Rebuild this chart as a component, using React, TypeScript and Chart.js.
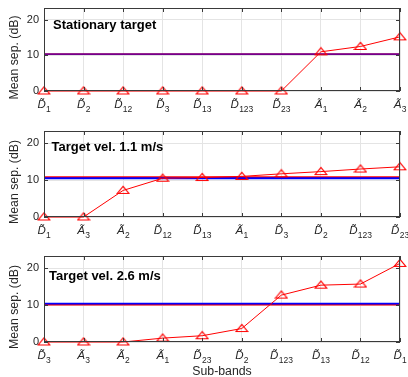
import { useEffect, useRef } from 'react';
import { Chart, registerables } from 'chart.js';

Chart.register(...registerables);

// Sub-band orderings and mean separation (dB) for each scenario
const BANDS_STATIONARY = ['D1', 'D2', 'D12', 'D3', 'D13', 'D123', 'D23', 'A1', 'A2', 'A3'];
const SEP_STATIONARY = [0, 0, 0, 0, 0, 0, 0, 11.0, 12.5, 15.2];

const BANDS_VEL_11 = ['D1', 'A3', 'A2', 'D12', 'D13', 'A1', 'D3', 'D2', 'D123', 'D23'];
const SEP_VEL_11 = [0, 0, 7.2, 10.5, 10.7, 11.0, 11.7, 12.3, 13.0, 13.6];

const BANDS_VEL_26 = ['D3', 'A3', 'A2', 'A1', 'D23', 'D2', 'D123', 'D13', 'D12', 'D1'];
const SEP_VEL_26 = [0, 0, 0, 1.05, 1.7, 3.65, 12.7, 15.4, 15.7, 21.3];

// Reference levels (dB) per scenario
const REF_BLUE = [10.35, 10.5, 10.4];
const REF_RED = [10.35, 10.8, 10.1];

const PANEL_TITLES = ['Stationary target', 'Target vel. 1.1 m/s', 'Target vel. 2.6 m/s'];
const Y_TICKS = [0, 10, 20];
const Y_MAX = 23.3;
const Y_TITLE = 'Mean sep. (dB)';
const X_TITLE = 'Sub-bands';

const FONT = '"Liberation Sans", Arial, Helvetica, sans-serif';
const AXIS_COLOR = '#3a3a3a';
const TEXT_COLOR = '#262626';
const GRID_COLOR = '#e4e4e4';

type PanelLayout = {
  canvasTop: number;
  canvasHeight: number;
  plotTop: number;
  plotBottom: number;
  noteX: number;
  noteY: number;
  blueColor: string;
  showXTitle: boolean;
};

const LAYOUTS: PanelLayout[] = [
  { canvasTop: 0, canvasHeight: 125, plotTop: 8, plotBottom: 91, noteX: 53, noteY: 25.5, blueColor: 'rgba(0,0,255,0.55)', showXTitle: false },
  { canvasTop: 125, canvasHeight: 125, plotTop: 6, plotBottom: 92, noteX: 51.5, noteY: 22, blueColor: '#0000ff', showXTitle: false },
  { canvasTop: 250, canvasHeight: 127, plotTop: 6, plotBottom: 92, noteX: 49, noteY: 26, blueColor: '#0000ff', showXTitle: true },
];

const PLOT_LEFT = 44;
const PLOT_RIGHT = 400;
const WIDTH = 408;

function makeTriangle(color: string): HTMLCanvasElement {
  const c = document.createElement('canvas');
  c.width = 14;
  c.height = 11;
  const g = c.getContext('2d')!;
  g.strokeStyle = color;
  g.lineWidth = 1.15;
  g.lineJoin = 'miter';
  g.beginPath();
  g.moveTo(7, 1.4);
  g.lineTo(12.8, 8.5);
  g.lineTo(1.2, 8.5);
  g.closePath();
  g.stroke();
  return c;
}

function drawBandLabel(ctx: CanvasRenderingContext2D, label: string, cx: number, base: number) {
  const letter = label[0] + '\u0303';
  const sub = label.slice(1);
  ctx.font = `italic 11.5px ${FONT}`;
  const wL = ctx.measureText(label[0]).width;
  ctx.font = `8.5px ${FONT}`;
  const wS = ctx.measureText(sub).width;
  const x0 = cx - (wL + wS) / 2;
  ctx.textAlign = 'left';
  ctx.textBaseline = 'alphabetic';
  ctx.fillStyle = TEXT_COLOR;
  ctx.font = `italic 11.5px ${FONT}`;
  ctx.fillText(letter, x0, base);
  ctx.font = `8.5px ${FONT}`;
  ctx.fillText(sub, x0 + wL + 0.3, base + 4);
}

function Panel({ idx, bands, values }: { idx: number; bands: string[]; values: number[] }) {
  const ref = useRef<HTMLCanvasElement | null>(null);
  const lay = LAYOUTS[idx];

  useEffect(() => {
    const canvas = ref.current;
    if (!canvas) return;
    const tri = makeTriangle('#ff0000');
    const first = bands[0];
    const last = bands[bands.length - 1];

    const frame = {
      id: 'frame' + idx,
      afterDraw(chart: any) {
        const { ctx, chartArea: a, scales } = chart;
        const xs = scales.x;
        const ys = scales.y;
        ctx.save();
        // axes box
        ctx.strokeStyle = AXIS_COLOR;
        ctx.lineWidth = 1;
        ctx.strokeRect(Math.round(a.left) + 0.5, Math.round(a.top) + 0.5, Math.round(a.right - a.left) - 1, Math.round(a.bottom - a.top) - 1);
        // inward ticks
        ctx.beginPath();
        bands.forEach((_, i) => {
          const x = Math.round(xs.getPixelForValue(i)) + 0.5;
          ctx.moveTo(x, a.bottom);
          ctx.lineTo(x, a.bottom - 4);
          ctx.moveTo(x, a.top);
          ctx.lineTo(x, a.top + 4);
        });
        Y_TICKS.forEach((v) => {
          const y = Math.round(ys.getPixelForValue(v)) + 0.5;
          ctx.moveTo(a.left, y);
          ctx.lineTo(a.left + 4, y);
          ctx.moveTo(a.right, y);
          ctx.lineTo(a.right - 4, y);
        });
        ctx.stroke();
        // x labels
        bands.forEach((b, i) => {
          drawBandLabel(ctx, b, xs.getPixelForValue(i), a.bottom + 16.5);
        });
        // y labels
        ctx.fillStyle = TEXT_COLOR;
        ctx.font = `11px ${FONT}`;
        ctx.textAlign = 'right';
        ctx.textBaseline = 'middle';
        Y_TICKS.forEach((v) => {
          ctx.fillText(String(v), a.left - 5, ys.getPixelForValue(v));
        });
        // y title
        ctx.save();
        ctx.translate(15, (a.top + a.bottom) / 2 + 8);
        ctx.rotate(-Math.PI / 2);
        ctx.font = `12.3px ${FONT}`;
        ctx.textAlign = 'center';
        ctx.textBaseline = 'middle';
        ctx.fillText(Y_TITLE, 0, 0);
        ctx.restore();
        // panel note
        ctx.fillStyle = '#000';
        ctx.font = `bold 13px ${FONT}`;
        ctx.textAlign = 'left';
        ctx.textBaseline = 'middle';
        ctx.fillText(PANEL_TITLES[idx], lay.noteX, lay.noteY);
        // x title
        if (lay.showXTitle) {
          ctx.fillStyle = TEXT_COLOR;
          ctx.font = `12.3px ${FONT}`;
          ctx.textAlign = 'center';
          ctx.textBaseline = 'middle';
          ctx.fillText(X_TITLE, (a.left + a.right) / 2, a.bottom + 30);
        }
        ctx.restore();
      },
    };

    const chart = new Chart(canvas, {
      type: 'line',
      data: {
        labels: bands,
        datasets: [
          {
            data: values,
            borderColor: '#ff0000',
            borderWidth: 1,
            tension: 0,
            pointStyle: tri as any,
            pointRadius: 5,
            clip: false as any,
          },
          {
            data: [{ x: first, y: REF_BLUE[idx] }, { x: last, y: REF_BLUE[idx] }] as any,
            borderColor: lay.blueColor,
            borderWidth: 1.8,
            pointRadius: 0,
          },
          {
            data: [{ x: first, y: REF_RED[idx] }, { x: last, y: REF_RED[idx] }] as any,
            borderColor: '#ff0000',
            borderWidth: 1.8,
            pointRadius: 0,
          },
        ],
      },
      options: {
        animation: false,
        responsive: false,
        maintainAspectRatio: false,
        devicePixelRatio: 1,
        layout: { padding: { top: lay.plotTop, left: 0, right: WIDTH - PLOT_RIGHT, bottom: 0 } },
        plugins: { legend: { display: false }, tooltip: { enabled: false } },
        scales: {
          x: {
            type: 'category',
            offset: false,
            grid: { color: GRID_COLOR, drawTicks: false },
            border: { display: false },
            ticks: { display: false },
            afterFit: (s: any) => {
              s.height = lay.canvasHeight - lay.plotBottom;
            },
          },
          y: {
            type: 'linear',
            min: 0,
            max: Y_MAX,
            grid: { color: GRID_COLOR, drawTicks: false },
            border: { display: false },
            ticks: { display: false },
            afterBuildTicks: (s: any) => {
              s.ticks = Y_TICKS.map((v) => ({ value: v }));
            },
            afterFit: (s: any) => {
              s.width = PLOT_LEFT;
            },
          },
        },
      },
      plugins: [frame],
    });
    return () => chart.destroy();
  }, [idx, bands, values]);

  return (
    <canvas
      ref={ref}
      width={WIDTH}
      height={lay.canvasHeight}
      style={{ position: 'absolute', left: 0, top: lay.canvasTop, width: WIDTH, height: lay.canvasHeight }}
    />
  );
}

export default function App() {
  return (
    <div style={{ position: 'absolute', left: 0, top: 0, width: WIDTH, height: 377, background: '#fff' }}>
      <Panel idx={0} bands={BANDS_STATIONARY} values={SEP_STATIONARY} />
      <Panel idx={1} bands={BANDS_VEL_11} values={SEP_VEL_11} />
      <Panel idx={2} bands={BANDS_VEL_26} values={SEP_VEL_26} />
    </div>
  );
}
